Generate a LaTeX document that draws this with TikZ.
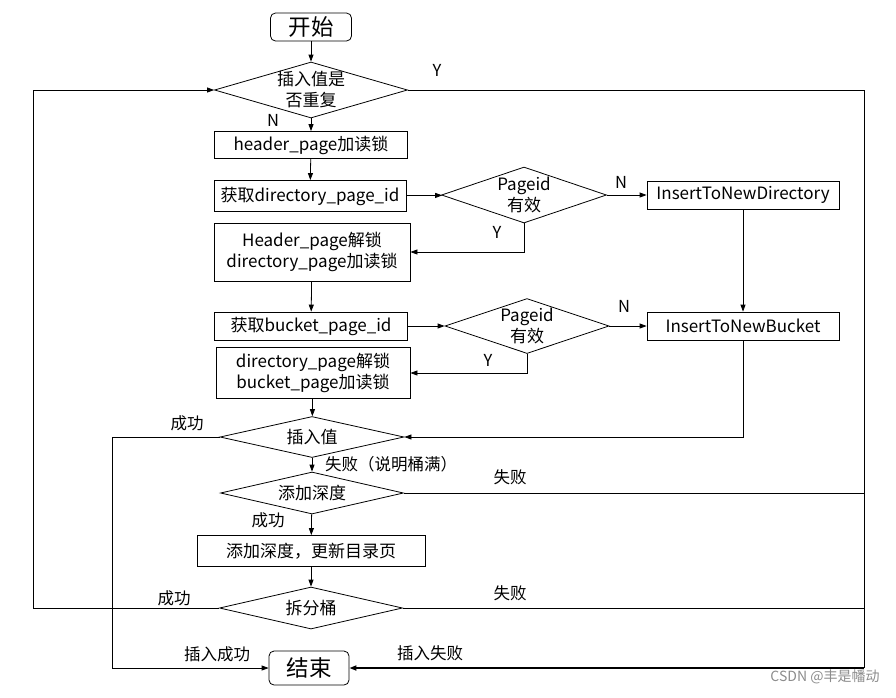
\documentclass[tikz,border=0pt]{standalone}
\usepackage{fontspec}
\setmainfont{Noto Sans CJK SC}
\usepackage{tikz}
\usetikzlibrary{shapes.geometric,arrows.meta}

\begin{document}
\begin{tikzpicture}[x = 1pt, y = -1pt, line width = 0.8pt, >={Triangle[length=7pt,width=5pt]},
                        every node/.style = {font = \fontsize{17}{21}\selectfont, inner sep = 0pt},
                        term/.style = {rectangle, draw, rounded corners = 5pt, font = \fontsize{22.5}{26}\selectfont},
                        proc/.style = {rectangle, draw, align = center},
                        dec/.style = {diamond, draw, label = {[align = center]center:#1}},
                        lab/.style = {font = \fontsize{16.5}{19}\selectfont}]
      \useasboundingbox (0, 0) rectangle (896, 697);
      % main column
      \node [term, minimum width = 81pt, minimum height = 28pt] (start) at (311, 27){开始};
      \node [dec = {插入值是\\否重复}, minimum width = 193pt, minimum height = 56pt] (dup) at (311, 90){};
      \node [proc, minimum width = 193pt, minimum height = 27pt] (hlock) at (311, 145){header\_page加读锁};
      \node [proc, minimum width = 192pt, minimum height = 31pt] (getdir) at (310, 196){获取directory\_page\_id};
      \node [proc, minimum width = 196pt, minimum height = 58pt] (hunlock) at (312, 252){Header\_page解锁\\directory\_page加读锁};
      \node [proc, minimum width = 193pt, minimum height = 28pt] (getbkt) at (311, 326){获取bucket\_page\_id};
      \node [proc, minimum width = 194pt, minimum height = 51pt] (dunlock) at (313, 373){directory\_page解锁\\bucket\_page加读锁};
      \node [dec = 插入值, minimum width = 184pt, minimum height = 41pt] (ins) at (312, 437){};
      \node [dec = 添加深度, minimum width = 183pt, minimum height = 42pt] (deep) at (312, 493){};
      \node [proc, minimum width = 228pt, minimum height = 31pt] (upd) at (311, 551){添加深度，更新目录页};
      \node [dec = 拆分桶, minimum width = 183pt, minimum height = 42pt] (split) at (311, 608){};
      \node [term, minimum width = 80pt, minimum height = 34pt] (stop) at (309, 668){结束};
      % right side
      \node [dec = {Pageid\\有效}, minimum width = 165pt, minimum height = 56pt] (valid1) at (524, 195){};
      \node [proc, minimum width = 192pt, minimum height = 28pt] (newdir) at (743, 195){InsertToNewDirectory};
      \node [dec = {Pageid\\有效}, minimum width = 164pt, minimum height = 55pt] (valid2) at (527, 326){};
      \node [proc, minimum width = 192pt, minimum height = 28pt] (newbkt) at (743, 326){InsertToNewBucket};
      \coordinate (lx) at (33, 90);
      \coordinate (rx) at (864, 90);
      % labels
      \node [lab] (ly) at (437, 70){Y};
      \node [lab] (ln) at (273, 120){N};
      \node [lab] (ln1) at (621, 182){N};
      \node [lab] (ly1) at (497, 232){Y};
      \node [lab] (ln2) at (624, 306){N};
      \node [lab] (ly2) at (488, 360){Y};
      \node [lab] (lok1) at (187, 423){成功};
      \node [lab] (lfull) at (391, 464){失败（说明桶满）};
      \node [lab] (lfail1) at (510, 477){失败};
      \node [lab] (lok2) at (268, 520){成功};
      \node [lab] (lok3) at (174, 598){成功};
      \node [lab] (lfail2) at (510, 593){失败};
      \node [lab] (ldone) at (217, 654){插入成功};
      \node [lab] (lnot) at (430, 653){插入失败};
      \node [font = \fontsize{14}{16}\selectfont, text = black!45] (mark) at (825, 677){CSDN @丰是幡动};
      % connectors
      \draw [->] (start) -- (dup);
      \draw [->] (dup) -- (hlock);
      \draw [->] (hlock) -- (getdir);
      \draw [->] (getdir) -- (valid1);
      \draw [->] (valid1) -- (newdir);
      \draw [->] (valid1.south) |- (hunlock.east);
      \draw [->] (hunlock) -- (getbkt);
      \draw [->] (getbkt) -- (valid2);
      \draw [->] (valid2) -- (newbkt);
      \draw [->] (valid2.south) |- (dunlock.east);
      \draw [->] (newdir) -- (newbkt);
      \draw [->] (dunlock) -- (ins);
      \draw [->] (newbkt.south) |- (ins.east);
      \draw [->] (ins.west) -- ++(-107, 0) |- (stop.west);
      \draw [->] (ins) -- (deep);
      \draw [->] (deep) -- (upd);
      \draw [->] (upd) -- (split);
      \draw [->] (split.west) -| (lx) -- (dup.west);
      \draw (dup.east) -- (rx) -- (rx |- stop.east);
      \draw [->, line width = 1.6pt] (rx |- stop.east) -- (stop.east);
      \draw (deep.east) -- (deep.east -| rx);
      \draw (split.east) -- (split.east -| rx);
    \end{tikzpicture}
\end{document}
